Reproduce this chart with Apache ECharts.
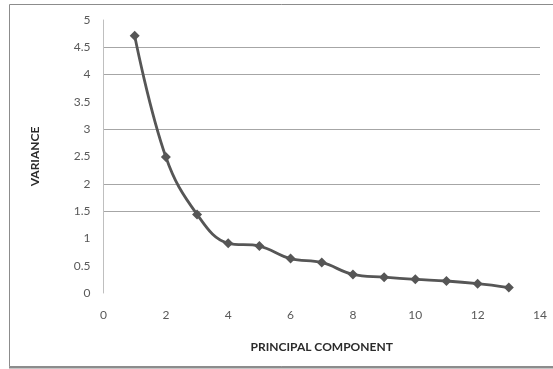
<!DOCTYPE html>
<html>
<head>
<meta charset="utf-8">
<script src="https://cdn.jsdelivr.net/npm/echarts@6/dist/echarts.min.js"></script>
<style>
html,body{margin:0;padding:0;background:#fff;}
#chart{width:553px;height:369px;}
</style>
</head>
<body>
<div id="chart"></div>
<script>
var components = [1,2,3,4,5,6,7,8,9,10,11,12,13];
var variance = [4.71,2.49,1.44,0.91,0.86,0.63,0.56,0.34,0.29,0.25,0.22,0.17,0.10];
var xTicks = [0,2,4,6,8,10,12,14];
var yTicks = [0,0.5,1,1.5,2,2.5,3,3.5,4,4.5,5];
var visibleGridValues = [1.5,2,3,4,4.5];

var chart = echarts.init(document.getElementById('chart'), null, {renderer:'canvas'});
var fontFam = 'Lato, "Open Sans", sans-serif';
var gridColors = yTicks.map(function(v){ return visibleGridValues.indexOf(v) >= 0 ? '#a6a6a6' : 'rgba(0,0,0,0)'; });

chart.setOption({
  animation:false,
  backgroundColor:'#fff',
  graphic:[
    {type:'rect', shape:{x:9.5,y:4.5,width:546,height:362}, style:{fill:'none',stroke:'#8c8c8c',lineWidth:1}, silent:true},
    {type:'line', shape:{x1:9,y1:367.5,x2:553,y2:367.5}, style:{stroke:'#8c8c8c',lineWidth:2}, silent:true}
  ],
  grid:{left:103.5,right:13,top:20,bottom:76,containLabel:false},
  xAxis:{
    type:'value', min:xTicks[0], max:xTicks[xTicks.length-1], interval:2,
    name:'PRINCIPAL COMPONENT', nameLocation:'middle', nameGap:48,
    nameTextStyle:{fontFamily:fontFam,fontSize:12,fontWeight:'bold',color:'#2b2b2b'},
    axisLine:{show:false}, axisTick:{show:false}, splitLine:{show:false},
    axisLabel:{margin:16,fontFamily:fontFam,fontSize:12,color:'#595959'}
  },
  yAxis:{
    type:'value', min:yTicks[0], max:yTicks[yTicks.length-1], interval:0.5,
    name:'VARIANCE', nameLocation:'middle', nameGap:62, nameRotate:90,
    nameTextStyle:{fontFamily:fontFam,fontSize:12,fontWeight:'bold',color:'#2b2b2b'},
    axisLine:{show:true,lineStyle:{color:'#bfbfbf',width:1}}, axisTick:{show:false},
    splitLine:{show:true,showMinLine:true,showMaxLine:true,lineStyle:{color:gridColors,width:1}},
    axisLabel:{margin:13,fontFamily:fontFam,fontSize:12,color:'#595959'}
  },
  series:[{
    type:'line',
    data:components.map(function(c,i){return [c,variance[i]];}),
    smooth:0.4,
    symbol:'diamond', symbolSize:10,
    lineStyle:{color:'#565656',width:2.8},
    itemStyle:{color:'#565656'}
  }]
});
</script>
</body>
</html>
